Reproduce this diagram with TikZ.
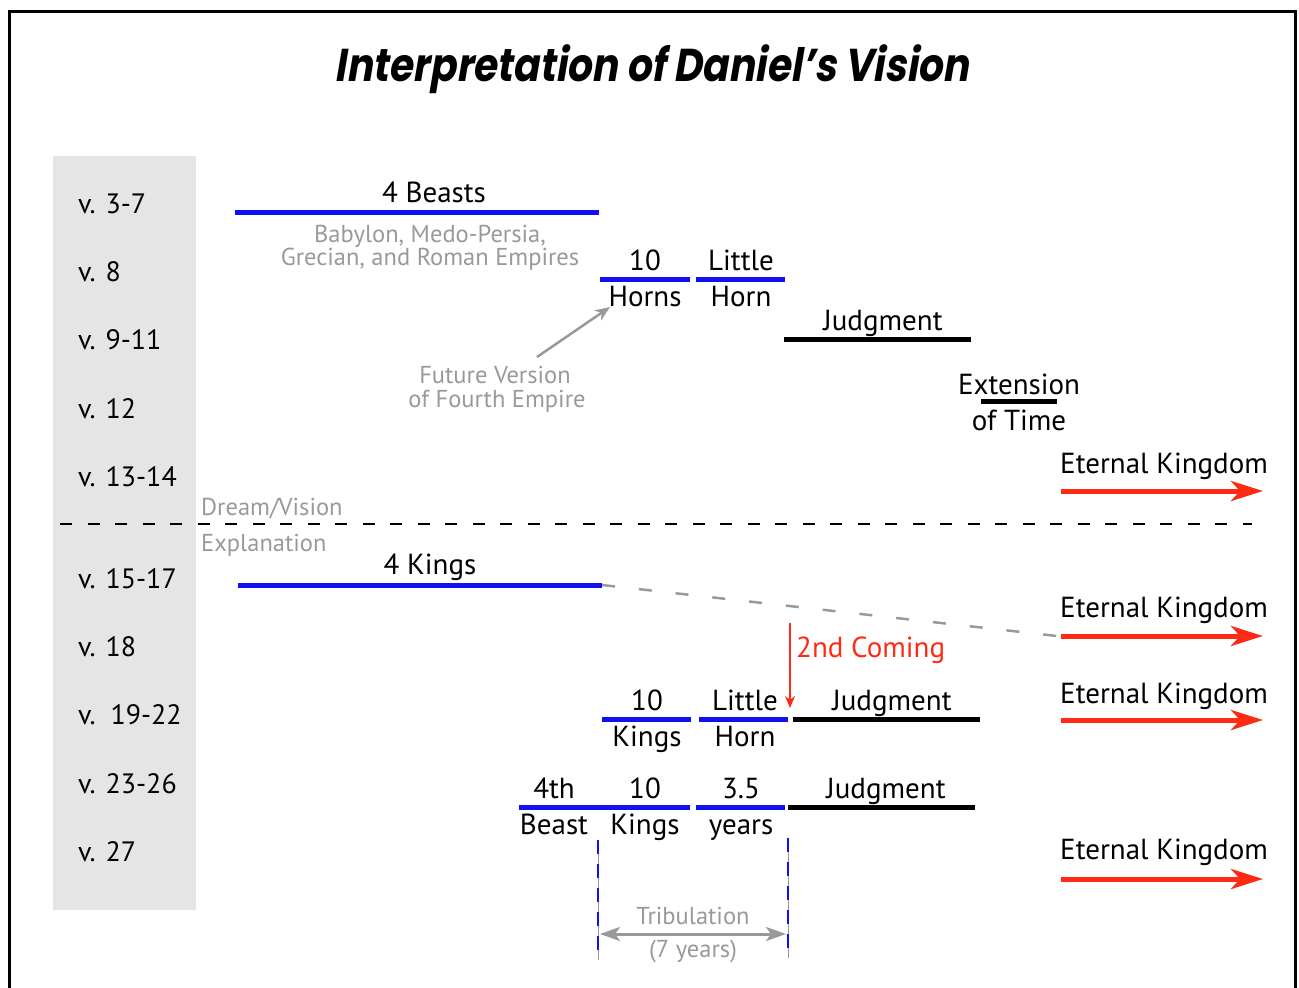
\documentclass[tikz,border=0pt]{standalone}
\usepackage{fontspec}
\setmainfont{PT Sans}
\newfontfamily\titlefont{Poppins Bold}[FakeSlant=0.2]
\usetikzlibrary{arrows.meta}
\definecolor{barblue}{HTML}{1010F0}
\definecolor{kred}{HTML}{FF2A14}
\definecolor{lgray}{HTML}{999999}
\definecolor{colgray}{HTML}{E5E5E5}
\tikzset{
  lbl/.style={anchor=base, inner sep=0pt, font=\fontsize{29}{31}\selectfont},
  vlbl/.style={anchor=base west, inner sep=0pt, font=\fontsize{28}{30}\selectfont},
  glbl/.style={anchor=base, inner sep=0pt, text=lgray, font=\fontsize{24.5}{26}\selectfont},
  bluebar/.style={draw=barblue, line width=5pt},
  blackbar/.style={draw=black, line width=5pt},
  redarrow/.style={draw=kred, line width=5pt, -{Stealth[length=32pt,width=20pt,inset=9pt]}},
}
\begin{document}
\begin{tikzpicture}[x=1pt,y=-1pt]
\useasboundingbox (0,0) rectangle (1299,988);
% frame
\draw[line width=3pt] (9,990) -- (9,11) -- (1295,11) -- (1295,990);
% title
\node[inner sep=0pt, anchor=base, xscale=0.85] (title) at (652,81) {\fontsize{46}{50}\titlefont Interpretation of Daniel’s Vision};
% gray column
\fill[colgray] (53,156) rectangle (196,910);
% verse labels
\node[vlbl] (v1) at (78,213) {v. 3-7};
\node[vlbl] (v2) at (78,281) {v. 8};
\node[vlbl] (v3) at (78,349) {v. 9-11};
\node[vlbl] (v4) at (78,418) {v. 12};
\node[vlbl] (v5) at (78,486) {v. 13-14};
\node[vlbl] (v6) at (78,588) {v. 15-17};
\node[vlbl] (v7) at (78,656) {v. 18};
\node[vlbl] (v8) at (78,724) {v.\ \ 19-22};
\node[vlbl] (v9) at (78,793) {v. 23-26};
\node[vlbl] (v10) at (78,861) {v. 27};
% dividing line
\coordinate (dl) at (60,524);
\coordinate (dr) at (1252,524);
\draw[line width=2pt, dash pattern=on 12pt off 15.5pt] (dl) -- (dr);
\node[glbl, anchor=base west] (dream) at (201,515) {Dream/Vision};
\node[glbl, anchor=base west] (expl) at (201,551) {Explanation};
% ---- Dream / vision part
\coordinate (b1) at (235,212); \coordinate (b2) at (599,212);
\draw[bluebar] (b1) -- (b2);
\node[lbl] (beasts) at (434,202) {4 Beasts};
\node[glbl] (bab1) at (430,242) {Babylon, Medo-Persia,};
\node[glbl] (bab2) at (430,265) {Grecian, and Roman Empires};
\coordinate (h1) at (600,279); \coordinate (h2) at (690,279);
\draw[bluebar] (h1) -- (h2);
\node[lbl] (ten1) at (645,270) {10};
\node[lbl] (horns) at (645,306) {Horns};
\coordinate (lh1) at (696,279); \coordinate (lh2) at (785,279);
\draw[bluebar] (lh1) -- (lh2);
\node[lbl] (little1) at (741,270) {Little};
\node[lbl] (horn1) at (741,306) {Horn};
\coordinate (j1a) at (784,339); \coordinate (j1b) at (971,339);
\draw[blackbar] (j1a) -- (j1b);
\node[lbl] (judg1) at (883,330) {Judgment};
\node[lbl] (ext) at (1019,394) {Extension};
\coordinate (e1) at (981,401); \coordinate (e2) at (1057,401);
\draw[blackbar] (e1) -- (e2);
\node[lbl] (oftime) at (1019,430) {of Time};
\node[lbl, anchor=base west] (ek1) at (1060,473) {Eternal Kingdom};
\coordinate (k1a) at (1061,491); \coordinate (k1b) at (1263,491);
\draw[redarrow] (k1a) -- (k1b);
\node[glbl] (fut1) at (495,383) {Future Version};
\node[glbl] (fut2) at (497,407) {of Fourth Empire};
\coordinate (fa) at (537,357); \coordinate (fb) at (610,307);
\draw[lgray, line width=2.5pt, -{Stealth[length=15pt,width=12pt]}] (fa) -- (fb);
% ---- Explanation part
\coordinate (kg1) at (238,585); \coordinate (kg2) at (602,585);
\draw[bluebar] (kg1) -- (kg2);
\node[lbl] (kings4) at (430,574) {4 Kings};
\coordinate (gd) at (1057,636);
\draw[lgray, line width=2.5pt, dash pattern=on 13pt off 24pt] (kg2) -- (gd);
\node[lbl, anchor=base west] (ek2) at (1060,617) {Eternal Kingdom};
\coordinate (k2a) at (1061,636); \coordinate (k2b) at (1263,636);
\draw[redarrow] (k2a) -- (k2b);
\coordinate (sc1) at (790,623); \coordinate (sc2) at (790,708);
\draw[kred, line width=2.2pt, -{Stealth[length=12pt,width=10pt]}] (sc1) -- (sc2);
\node[lbl, anchor=base west, text=kred] (second) at (796,657) {2nd Coming};
\coordinate (tk1) at (602,719); \coordinate (tk2) at (691,719);
\draw[bluebar] (tk1) -- (tk2);
\node[lbl] (ten2) at (647,710) {10};
\node[lbl] (kings10) at (647,746) {Kings};
\coordinate (lh3) at (699,719); \coordinate (lh4) at (788,719);
\draw[bluebar] (lh3) -- (lh4);
\node[lbl] (little2) at (745,710) {Little};
\node[lbl] (horn2) at (745,746) {Horn};
\coordinate (j2a) at (793,719); \coordinate (j2b) at (980,719);
\draw[blackbar] (j2a) -- (j2b);
\node[lbl] (judg2) at (892,710) {Judgment};
\node[lbl, anchor=base west] (ek3) at (1060,703) {Eternal Kingdom};
\coordinate (k3a) at (1061,720); \coordinate (k3b) at (1263,720);
\draw[redarrow] (k3a) -- (k3b);
\coordinate (fb1) at (519,807); \coordinate (fb2) at (690,807);
\draw[bluebar] (fb1) -- (fb2);
\node[lbl] (fourth) at (554,798) {4th};
\node[lbl] (beast) at (554,834) {Beast};
\node[lbl] (ten3) at (645,798) {10};
\node[lbl] (kings3) at (645,834) {Kings};
\coordinate (y1) at (696,807); \coordinate (y2) at (785,807);
\draw[bluebar] (y1) -- (y2);
\node[lbl] (three) at (741,798) {3.5};
\node[lbl] (years) at (741,834) {years};
\coordinate (j3a) at (788,807); \coordinate (j3b) at (975,807);
\draw[blackbar] (j3a) -- (j3b);
\node[lbl] (judg3) at (886,798) {Judgment};
\node[lbl, anchor=base west] (ek4) at (1060,859) {Eternal Kingdom};
\coordinate (k4a) at (1061,879); \coordinate (k4b) at (1263,879);
\draw[redarrow] (k4a) -- (k4b);
% tribulation
\coordinate (t1a) at (598,840); \coordinate (t1b) at (598,960);
\coordinate (t2a) at (788,838); \coordinate (t2b) at (788,958);
\draw[lgray, line width=0.8pt] (t1a) -- (t1b);
\draw[lgray, line width=0.8pt] (t2a) -- (t2b);
\draw[barblue, line width=1.6pt, dash pattern=on 14pt off 10pt] (t1a) -- (t1b);
\draw[barblue, line width=1.6pt, dash pattern=on 14pt off 10pt] (t2a) -- (t2b);
\coordinate (ta) at (600,934); \coordinate (tb) at (786,934);
\draw[lgray, line width=3pt, {Stealth[length=20pt,width=14pt,inset=5pt]}-{Stealth[length=20pt,width=14pt,inset=5pt]}] (ta) -- (tb);
\node[glbl] (trib) at (693,924) {Tribulation};
\node[glbl] (seven) at (693,957) {(7 years)};
\end{tikzpicture}
\end{document}
